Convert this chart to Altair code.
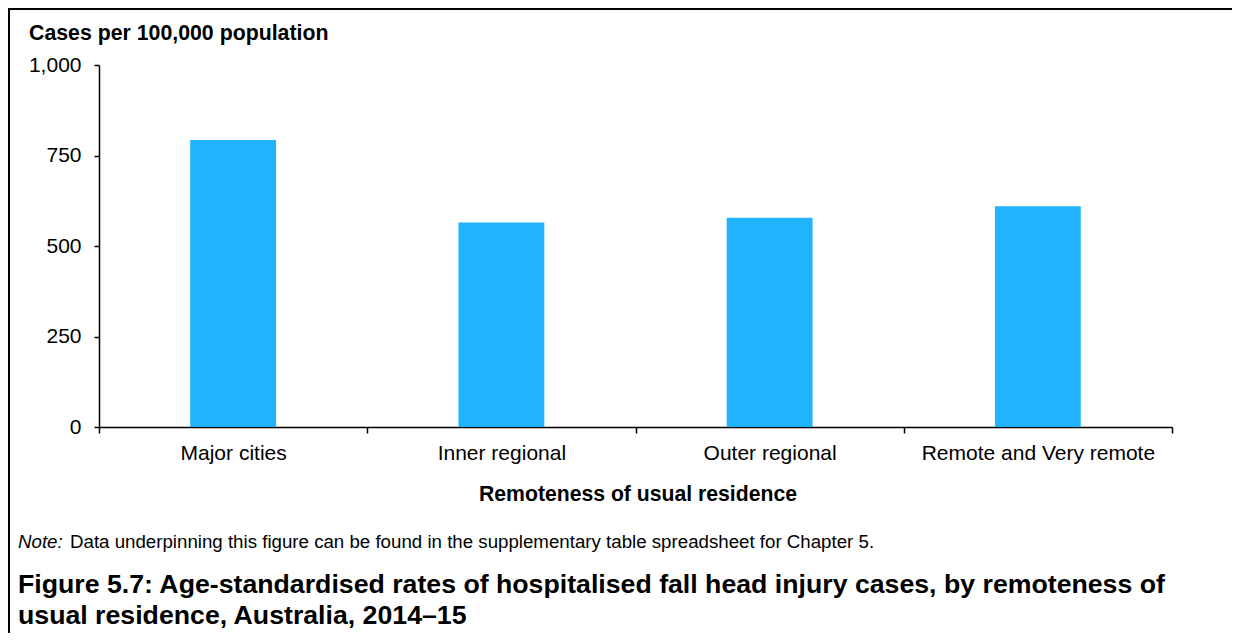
import altair as alt
import pandas as pd

categories = ["Major cities", "Inner regional", "Outer regional", "Remote and Very remote"]
rates = [793, 565, 578, 610]
y_ticks = [0, 250, 500, 750, 1000]

y_title = "Cases per 100,000 population"
x_title = "Remoteness of usual residence"
note_label = "Note:"
note_text = "Data underpinning this figure can be found in the supplementary table spreadsheet for Chapter 5."
fig_title = "Figure 5.7: Age-standardised rates of hospitalised fall head injury cases, by remoteness of\nusual residence, Australia, 2014\u201315"

FONT = "Arial, Liberation Sans, sans-serif"
W, H = 1073, 362
PAD = {"left": 91, "top": 57, "right": 60, "bottom": 206}

df = pd.DataFrame({"cat": categories, "rate": rates})

bars = alt.Chart(df).mark_bar(color="#20B4FF", width=alt.RelativeBandSize(0.32)).encode(
    x=alt.X("cat:N", sort=categories, title=None,
            scale=alt.Scale(paddingInner=0, paddingOuter=0),
            axis=alt.Axis(labelAngle=0, tickBand="extent", tickSize=6, labelPadding=9,
                          labelFontSize=21, labelFont=FONT, labelColor="#000", labelLimit=400,
                          domainColor="#000", domainWidth=1.5, tickColor="#000", tickWidth=1.5)),
    y=alt.Y("rate:Q", title=None, scale=alt.Scale(domain=[0, 1000], nice=False),
            axis=alt.Axis(values=y_ticks, format=",.0f", grid=False, tickSize=5, labelPadding=13,
                          labelFontSize=21, labelFont=FONT, labelColor="#000",
                          domainColor="#000", domainWidth=1.5, tickColor="#000", tickWidth=1.5)),
)

def txt(s, x, y, size, weight="normal", style="normal", align="left", **kw):
    return alt.Chart(pd.DataFrame({"t": [s]})).mark_text(
        align=align, baseline="alphabetic", fontSize=size, fontWeight=weight,
        fontStyle=style, font=FONT, color="#000", **kw
    ).encode(x=alt.value(x), y=alt.value(y), text="t:N")

ytitle = txt(y_title, -70, -25, 21.3, "bold")
xtitle = txt(x_title, 539, 436, 21.2, "bold", align="center")
note1 = txt(note_label, -81, 483, 18.7, style="italic")
note2 = txt(note_text, -29, 483, 18.7)
ftitle = txt(fig_title, -81, 528, 26.7, "bold", lineBreak="\n", lineHeight=31)

top_border = alt.Chart(pd.DataFrame({"a": [0]})).mark_rect(color="#000").encode(
    x=alt.value(-91), x2=alt.value(W + PAD["right"]), y=alt.value(-57), y2=alt.value(-55))
left_border = alt.Chart(pd.DataFrame({"a": [0]})).mark_rect(color="#000").encode(
    x=alt.value(-91), x2=alt.value(-89), y=alt.value(-57), y2=alt.value(H + PAD["bottom"]))

chart = alt.layer(bars, ytitle, xtitle, note1, note2, ftitle, top_border, left_border).properties(
    width=W, height=H, padding=PAD, autosize=alt.AutoSizeParams(type="none"),
    background="white",
).configure_view(stroke=None)

chart.save("out.html", embed_options={"renderer": "svg", "actions": False})
